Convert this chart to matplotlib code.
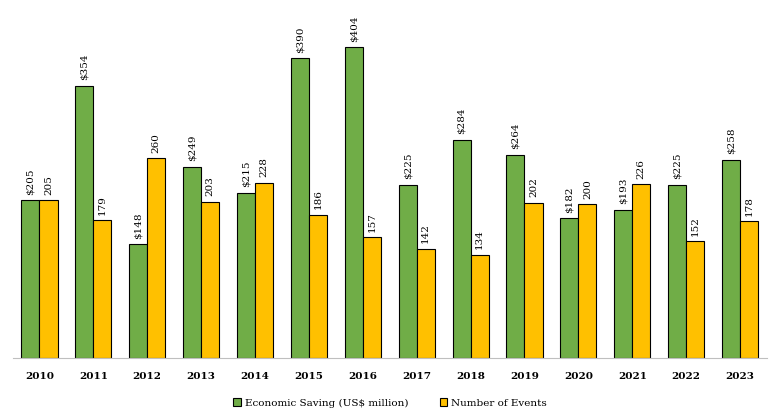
import matplotlib.pyplot as plt
import numpy as np

years = ["2010", "2011", "2012", "2013", "2014", "2015", "2016",
         "2017", "2018", "2019", "2020", "2021", "2022", "2023"]
saving = [205, 354, 148, 249, 215, 390, 404, 225, 284, 264, 182, 193, 225, 258]
events = [205, 179, 260, 203, 228, 186, 157, 142, 134, 202, 200, 226, 152, 178]

GREEN = "#70AD47"
GOLD = "#FFC000"

plt.rcParams["font.family"] = ["DejaVu Serif"]

fig = plt.figure(figsize=(7.8, 4.2), dpi=100)
ax = fig.add_axes([12.5 / 780, 1 - 358 / 420, (767 - 12.5) / 780, 346 / 420])

x = np.arange(len(years))
w = 0.335
b1 = ax.bar(x - w / 2, saving, w, color=GREEN, edgecolor="black", linewidth=0.8,
            label="Economic Saving (US$ million)")
b2 = ax.bar(x + w / 2, events, w, color=GOLD, edgecolor="black", linewidth=0.8,
            label="Number of Events")

for xi, v in zip(x, saving):
    ax.annotate(f"${v}", (xi - w / 2, v), xytext=(0, 4), textcoords="offset points",
                rotation=90, ha="center", va="bottom", fontsize=7.5)
for xi, v in zip(x, events):
    ax.annotate(f"{v}", (xi + w / 2, v), xytext=(0, 4), textcoords="offset points",
                rotation=90, ha="center", va="bottom", fontsize=7.5)

ax.set_xlim(-0.5, len(years) - 0.5)
ax.set_ylim(0, 450)
ax.set_xticks(x)
ax.set_xticklabels(years, fontweight="bold", fontsize=7.5)
ax.tick_params(axis="x", length=0, pad=10)
ax.set_yticks([])
for s in ["top", "right", "left"]:
    ax.spines[s].set_visible(False)
ax.spines["bottom"].set_color("#BFBFBF")

fig.legend(handles=[b1, b2], loc="center", bbox_to_anchor=(0.5, 1 - 403 / 420),
           ncol=2, frameon=False, fontsize=7.5, handlelength=0.7, handleheight=0.7,
           columnspacing=3, handletextpad=0.4)

fig.savefig("out.png", dpi=100)
